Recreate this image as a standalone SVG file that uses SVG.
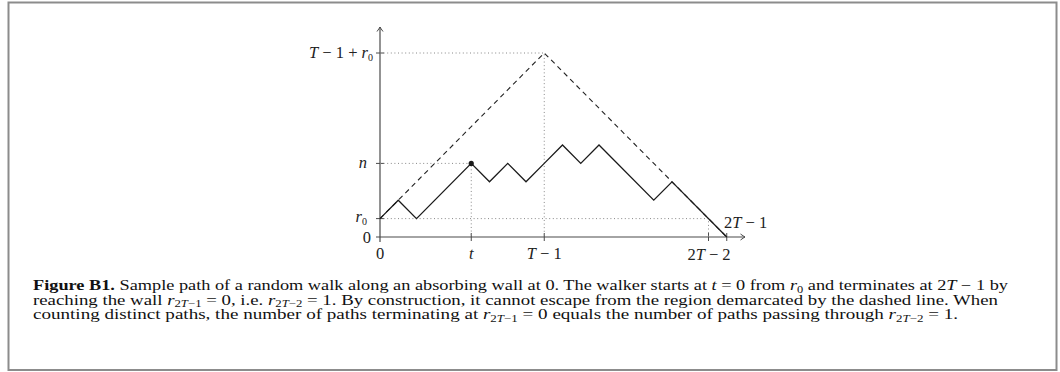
<svg xmlns="http://www.w3.org/2000/svg" width="1060" height="372" viewBox="0 0 1060 372">
<style>
.ax{stroke:#4a4a4a;stroke-width:1.2;fill:none}
.tk{stroke:#4a4a4a;stroke-width:1;fill:none}
.dot{stroke:#888;stroke-width:1;stroke-dasharray:1 2.6;fill:none}
.dash{stroke:#222;stroke-width:1.1;stroke-dasharray:5 4;fill:none}
.walk{stroke:#1a1a1a;stroke-width:1.3;fill:none;stroke-linejoin:miter}
.lbl{font-family:"Liberation Serif","DejaVu Serif",serif;font-size:16.5px;fill:#222}
.i{font-style:italic}
.cap{font-family:"Liberation Serif","DejaVu Serif",serif;font-size:14px;fill:#111}
.sub{font-size:10px}
.csub{font-size:9.5px}
</style>
<defs>
<marker id="arr" viewBox="-6 -4 8 8" refX="0" refY="0" markerWidth="8" markerHeight="8" markerUnits="userSpaceOnUse" orient="auto">
<path d="M-4.5,-3 Q-1.5,-0.8 0,0 Q-1.5,0.8 -4.5,3" fill="none" stroke="#4a4a4a" stroke-width="1"/>
</marker>
</defs>
<rect x="8.5" y="2.5" width="1048" height="367.5" fill="#fff" stroke="#8c8c8c" stroke-width="2"/>

<g id="axes">
<line class="ax" x1="376" y1="237" x2="745" y2="237" marker-end="url(#arr)"/>
<line class="ax" x1="380" y1="242" x2="380" y2="27" marker-end="url(#arr)"/>
<path class="tk" d="M376,53H384M376,163.4H384M376,218.6H384"/>
<path class="tk" d="M471.25,233V241M544.25,233V241M708.5,233V241M726.75,233V241"/>
</g>

<g id="connectors">
<path class="dot" d="M380,53H544.25V237"/>
<path class="dot" d="M380,163.4H471.25V237"/>
<path class="dot" d="M380,218.6H708.5V237"/>
<path class="dash" d="M380,218.6L544.25,53L726.75,237"/>
<path class="walk" d="M380,218.6L398.25,200.2L416.5,218.6L471.25,163.4L489.5,181.8L507.75,163.4L526,181.8L544.25,163.4L562.5,145L580.75,163.4L599,145L653.75,200.2L672,181.8L726.75,237"/>
</g>
<g id="point-t-n"><circle cx="471.25" cy="163.4" r="2.6" fill="#1a1a1a"/></g>

<g id="labels" class="lbl">
<text x="373" y="58" text-anchor="end"><tspan class="i">T</tspan> − 1 + <tspan class="i">r</tspan><tspan class="sub" dy="3">0</tspan></text>
<text x="367" y="168" text-anchor="end" class="i">n</text>
<text x="367" y="222" text-anchor="end"><tspan class="i">r</tspan><tspan class="sub" dy="3">0</tspan></text>
<text x="371" y="243" text-anchor="end">0</text>
<text x="380" y="259" text-anchor="middle">0</text>
<text x="471.25" y="259" text-anchor="middle" class="i">t</text>
<text x="544.25" y="259" text-anchor="middle"><tspan class="i">T</tspan> − 1</text>
<text x="709" y="260" text-anchor="middle">2<tspan class="i">T</tspan> − 2</text>
<text x="724" y="228">2<tspan class="i">T</tspan> − 1</text>
</g>

<g id="caption" class="cap">
<text x="33" y="290" textLength="975" lengthAdjust="spacingAndGlyphs"><tspan font-weight="bold">Figure B1.</tspan> Sample path of a random walk along an absorbing wall at 0. The walker starts at <tspan class="i">t</tspan> = 0 from <tspan class="i">r</tspan><tspan class="csub" dy="2.5">0</tspan><tspan dy="-2.5"> and terminates at 2</tspan><tspan class="i">T</tspan> − 1 by</text>
<text x="33" y="304.5" textLength="965" lengthAdjust="spacingAndGlyphs">reaching the wall <tspan class="i">r</tspan><tspan class="csub" dy="2.5">2<tspan class="i">T</tspan>−1</tspan><tspan dy="-2.5"> = 0, i.e. </tspan><tspan class="i">r</tspan><tspan class="csub" dy="2.5">2<tspan class="i">T</tspan>−2</tspan><tspan dy="-2.5"> = 1. By construction, it cannot escape from the region demarcated by the dashed line. When</tspan></text>
<text x="33" y="319" textLength="925" lengthAdjust="spacingAndGlyphs">counting distinct paths, the number of paths terminating at <tspan class="i">r</tspan><tspan class="csub" dy="2.5">2<tspan class="i">T</tspan>−1</tspan><tspan dy="-2.5"> = 0 equals the number of paths passing through </tspan><tspan class="i">r</tspan><tspan class="csub" dy="2.5">2<tspan class="i">T</tspan>−2</tspan><tspan dy="-2.5"> = 1.</tspan></text>
</g>
</svg>
